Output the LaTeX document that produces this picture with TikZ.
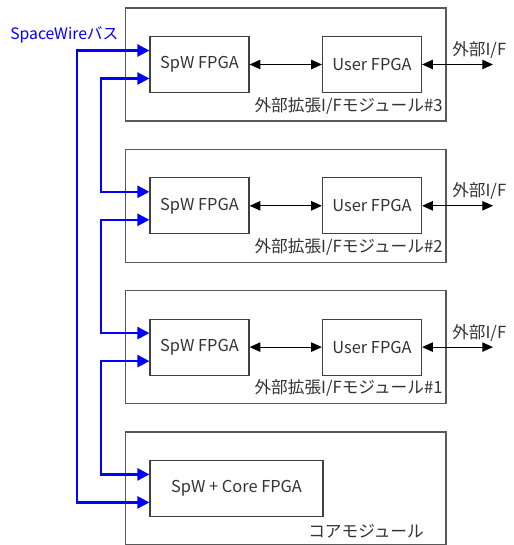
\documentclass[tikz,border=0pt]{standalone}
\usepackage{fontspec}
\setmainfont{Noto Sans CJK JP}
\usetikzlibrary{arrows.meta}

\begin{document}
\begin{tikzpicture}[
    x=0.75pt, y=-0.75pt,
    >={Triangle[length=8pt, width=7pt]},
    modbox/.style = {draw=black!65, line width=1.1pt, inner sep=0pt,
                     minimum width=240.4pt, minimum height=84.75pt},
    fpga/.style   = {draw=black!75, line width=0.9pt, text=black!80,
                     minimum width=74.25pt, minimum height=42pt,
                     font=\fontsize{12.3}{14}\selectfont},
    bus/.style    = {line width=1.8pt, blue,
                     {Triangle[length=9pt, width=9pt]}-{Triangle[length=9pt, width=9pt]}},
    link/.style   = {line width=0.9pt, black, <->},
    lbl/.style    = {text=black!80, inner sep=0pt,
                     font=\fontsize{12.5}{14}\selectfont},
  ]

  \useasboundingbox (0,0) rectangle (513,545);

  % --- extension modules #3, #2, #1 ------------------------------------------
  \foreach \k/\y in {3/64.5, 2/205.8, 1/347.1} {
    \node[modbox] (mod\k) at (285.75,\y) {};
    \node[fpga] (spw\k)  at (199.5,\y) {SpW FPGA};
    \node[fpga] (user\k) at (372,\y)   {User FPGA};
    \coordinate (ext\k) at (493,\y);
    \draw[link] (spw\k) -- (user\k);
    \draw[link] (user\k) -- (ext\k);
    \node[lbl, anchor=base west] (ifl\k) at (452,\y-9) {外部I/F};
    \node[lbl, anchor=base east] (modl\k)
      at ([xshift=-3pt, yshift=8pt]mod\k.south east) {外部拡張I/Fモジュール\#\k};
  }

  % --- core module -------------------------------------------------------------
  \node[modbox] (coremod) at (285.75,488.4) {};
  \node[fpga, minimum width=129.75pt] (corefpga) at (236.5,488.4)
    {SpW + Core FPGA};
  \node[lbl, anchor=base east] (corel)
    at ([xshift=-17pt, yshift=6pt]coremod.south east) {コアモジュール};

  % --- SpaceWire bus -------------------------------------------------------------
  \node[lbl, text=blue, anchor=west, font=\fontsize{11.8}{14}\selectfont]
    (buslbl) at (10,35) {SpaceWireバス};
  \coordinate (busout) at (77,300);
  \coordinate (bus32)  at (101,135);
  \coordinate (bus21)  at (101,276);
  \coordinate (bus1c)  at (101,417);
  \draw[bus] ([yshift=10.5pt]spw3.west) -| (busout)
             |- ([yshift=-10.5pt]corefpga.west);
  \draw[bus] ([yshift=-10.5pt]spw3.west) -| (bus32)
             |- ([yshift=10.5pt]spw2.west);
  \draw[bus] ([yshift=-10.5pt]spw2.west) -| (bus21)
             |- ([yshift=10.5pt]spw1.west);
  \draw[bus] ([yshift=-10.5pt]spw1.west) -| (bus1c)
             |- ([yshift=10.5pt]corefpga.west);

\end{tikzpicture}
\end{document}
